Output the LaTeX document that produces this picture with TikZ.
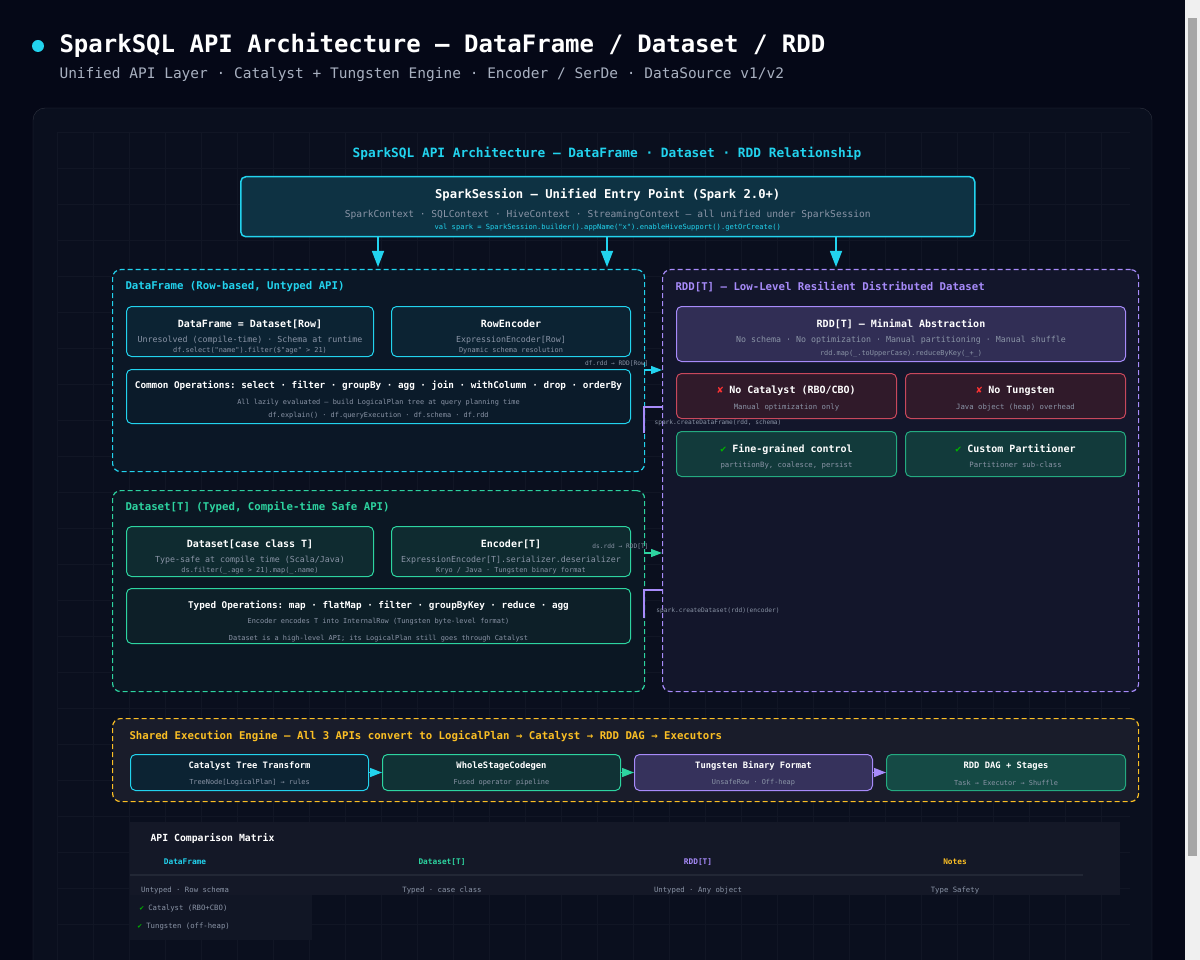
\documentclass[tikz,border=0pt]{standalone}
\usepackage{fontspec}
\setmonofont{DejaVu Sans Mono}
\usetikzlibrary{positioning,arrows.meta}
\definecolor{bgc}{HTML}{050817}
\definecolor{panelc}{HTML}{0A0F1E}
\definecolor{cyanc}{HTML}{22D3EE}
\definecolor{greenc}{HTML}{2DD4A0}
\definecolor{purplec}{HTML}{A78BFA}
\definecolor{amberc}{HTML}{FBBF24}
\definecolor{redc}{HTML}{C8485C}
\definecolor{greyc}{HTML}{8A94A6}
\definecolor{subc}{HTML}{A8B0C0}
\tikzset{
  box/.style={draw, rounded corners=5pt, line width=1pt, anchor=north west, inner sep=0pt},
  grp/.style={draw, dashed, dash pattern=on 5pt off 3pt, rounded corners=8pt, line width=1.2pt, anchor=north west, inner sep=0pt},
  ttl/.style={text=white, font=\ttfamily\bfseries\fontsize{10}{12}\selectfont},
  sub/.style={text=greyc, font=\ttfamily\fontsize{8.3}{10}\selectfont},
  code/.style={text=greyc, font=\ttfamily\fontsize{6.9}{8}\selectfont},
  glbl/.style={anchor=west, font=\ttfamily\bfseries\fontsize{10.7}{12}\selectfont},
  arr/.style={-{Triangle[length=9pt,width=9pt]}, line width=1.3pt},
  small/.style={text=greyc, font=\ttfamily\fontsize{6.2}{7}\selectfont}
}
% box with two text lines
\newcommand{\apibox}[8]{%
  \node[box, draw=#4, fill=#5, minimum width=#2pt, minimum height=#3pt] (#1) at #6 {};
  \node[ttl] at ([yshift=-18pt]#1.north) {#7};
  \node[sub] at ([yshift=-34pt]#1.north) {#8};
}
\begin{document}
\begin{tikzpicture}[x=1pt,y=-1pt]
\fill[bgc] (0,0) rectangle (1200,960);
\useasboundingbox (0,0) rectangle (1200,960);
% scrollbar
\fill[white!94!black] (1185,0) rectangle (1200,960);
\fill[gray!70] (1188,18) rectangle (1197,856);
% header
\fill[cyanc] (38,46) circle (6pt);
\node[anchor=west, text=white, font=\ttfamily\bfseries\fontsize{24}{28}\selectfont] (title) at (56,45) {SparkSQL API Architecture — DataFrame / Dataset / RDD};
\node[anchor=west, text=subc, font=\ttfamily\fontsize{14.5}{17}\selectfont] (subtitle) at (56,75) {Unified API Layer · Catalyst + Tungsten Engine · Encoder / SerDe · DataSource v1/v2};
% panel
\draw[fill=panelc, draw=white!15!panelc, rounded corners=12pt] (33,108) rectangle (1152,975);
\foreach \gx in {57,93,...,1130} \draw[white!3!panelc] (\gx,132) -- (\gx,960);
\foreach \gy in {132,168,...,960} \draw[white!3!panelc] (57,\gy) -- (1130,\gy);
\node[text=cyanc, font=\ttfamily\bfseries\fontsize{12.8}{14}\selectfont] (heading) at (607,154) {SparkSQL API Architecture — DataFrame · Dataset · RDD Relationship};

% SparkSession
\node[box, draw=cyanc, fill=cyanc!18!panelc, line width=1.5pt, minimum width=734pt, minimum height=60pt] (session) at (240,176) {};
\node[text=white, font=\ttfamily\bfseries\fontsize{12.2}{14}\selectfont] at ([yshift=-19pt]session.north) {SparkSession — Unified Entry Point (Spark 2.0+)};
\node[sub, font=\ttfamily\fontsize{9.6}{11}\selectfont] at ([yshift=-39pt]session.north) {SparkContext · SQLContext · HiveContext · StreamingContext — all unified under SparkSession};
\node[code, text=cyanc, font=\ttfamily\fontsize{7.1}{8}\selectfont] at ([yshift=-52pt]session.north) {val spark = SparkSession.builder().appName("x").enableHiveSupport().getOrCreate()};
\coordinate (s1) at (378,267); \coordinate (s2) at (607,267); \coordinate (s3) at (836,267);
\draw[cyanc, line width=1.4pt, -{Triangle[length=16pt,width=12pt]}] (session.south -| s1) -- (s1);
\draw[cyanc, line width=1.4pt, -{Triangle[length=16pt,width=12pt]}] (session.south -| s2) -- (s2);
\draw[cyanc, line width=1.4pt, -{Triangle[length=16pt,width=12pt]}] (session.south -| s3) -- (s3);

% DataFrame group
\node[grp, draw=cyanc, fill=cyanc!4!panelc, minimum width=532pt, minimum height=202pt] (dfgrp) at (112,269) {};
\node[glbl, text=cyanc] at (122,287) {DataFrame (Row-based, Untyped API)};
\apibox{dfrow}{247}{50}{cyanc}{cyanc!10!panelc}{(126,306)}{DataFrame = Dataset[Row]}{Unresolved (compile-time) · Schema at runtime}
\node[code] at ([yshift=-45pt]dfrow.north) {df.select("name").filter(\$"age" > 21)};
\apibox{rowenc}{239}{50}{cyanc}{cyanc!10!panelc}{(391,306)}{RowEncoder}{ExpressionEncoder[Row]}
\node[code] at ([yshift=-45pt]rowenc.north) {Dynamic schema resolution};
\node[box, draw=cyanc, fill=cyanc!6!panelc, minimum width=504pt, minimum height=54pt] (dfops) at (126,369) {};
\node[ttl, font=\ttfamily\bfseries\fontsize{9.3}{10}\selectfont] at ([yshift=-17pt]dfops.north) {Common Operations: select · filter · groupBy · agg · join · withColumn · drop · orderBy};
\node[code] at ([yshift=-34pt]dfops.north) {All lazily evaluated — build LogicalPlan tree at query planning time};
\node[code] at ([yshift=-47pt]dfops.north) {df.explain() · df.queryExecution · df.schema · df.rdd};

% Dataset group
\node[grp, draw=greenc, fill=greenc!4!panelc, minimum width=532pt, minimum height=201pt] (dsgrp) at (112,490) {};
\node[glbl, text=greenc] at (122,507) {Dataset[T] (Typed, Compile-time Safe API)};
\apibox{dscase}{247}{50}{greenc}{greenc!14!panelc}{(126,526)}{Dataset[case class T]}{Type-safe at compile time (Scala/Java)}
\node[code] at ([yshift=-45pt]dscase.north) {ds.filter(\_.age > 21).map(\_.name)};
\apibox{enc}{239}{50}{greenc}{greenc!14!panelc}{(391,526)}{Encoder[T]}{ExpressionEncoder[T].serializer.deserializer}
\node[code] at ([yshift=-45pt]enc.north) {Kryo / Java · Tungsten binary format};
\node[box, draw=greenc, fill=greenc!8!panelc, minimum width=504pt, minimum height=55pt] (dsops) at (126,588) {};
\node[ttl, font=\ttfamily\bfseries\fontsize{9.3}{10}\selectfont] at ([yshift=-18pt]dsops.north) {Typed Operations: map · flatMap · filter · groupByKey · reduce · agg};
\node[code] at ([yshift=-34pt]dsops.north) {Encoder encodes T into InternalRow (Tungsten byte-level format)};
\node[code] at ([yshift=-51pt]dsops.north) {Dataset is a high-level API; its LogicalPlan still goes through Catalyst};

% RDD group
\node[grp, draw=purplec, fill=purplec!6!panelc, minimum width=476pt, minimum height=422pt] (rddgrp) at (662,269) {};
\node[glbl, text=purplec] at (672,287) {RDD[T] — Low-Level Resilient Distributed Dataset};
\apibox{rddmin}{449}{55}{purplec}{purplec!25!panelc}{(676,306)}{RDD[T] — Minimal Abstraction}{No schema · No optimization · Manual partitioning · Manual shuffle}
\node[code] at ([yshift=-48pt]rddmin.north) {rdd.map(\_.toUpperCase).reduceByKey(\_+\_)};
\apibox{nocat}{220}{45}{redc}{redc!20!panelc}{(676,373)}{{\color{red!80!white}✘} No Catalyst (RBO/CBO)}{\fontsize{7.3}{8}\selectfont Manual optimization only}
\apibox{notung}{220}{45}{redc}{redc!20!panelc}{(905,373)}{{\color{red!80!white}✘} No Tungsten}{\fontsize{7.3}{8}\selectfont Java object (heap) overhead}
\apibox{fine}{220}{45}{greenc!80!black}{greenc!22!panelc}{(676,431)}{{\color{green!70!black}✔} Fine-grained control}{\fontsize{7.3}{8}\selectfont partitionBy, coalesce, persist}
\apibox{custom}{220}{45}{greenc!80!black}{greenc!22!panelc}{(905,431)}{{\color{green!70!black}✔} Custom Partitioner}{\fontsize{7.3}{8}\selectfont Partitioner sub-class}

% conversions
\coordinate (dfout) at (644,370); \coordinate (dfin) at (662,370);
\draw[arr, cyanc, -{Triangle[length=11pt,width=8pt]}] (dfout) -- (dfin);
\node[small, anchor=east] at (652,364) {df.rdd → RDD[Row]};
\coordinate (rdf1) at (662,407); \coordinate (rdf2) at (644,407); \coordinate (rdf3) at (644,433);
\draw[purplec, line width=1.3pt] (rdf1) -- (rdf2) -- (rdf3);
\node[small] at (718,423) {spark.createDataFrame(rdd, schema)};
\coordinate (dsout) at (644,553); \coordinate (dsin) at (662,553);
\draw[arr, greenc, -{Triangle[length=11pt,width=8pt]}] (dsout) -- (dsin);
\node[small, anchor=east] at (652,547) {ds.rdd → RDD[T]};
\coordinate (rds1) at (662,590); \coordinate (rds2) at (644,590); \coordinate (rds3) at (644,618);
\draw[purplec, line width=1.3pt] (rds1) -- (rds2) -- (rds3);
\node[small] at (718,611) {spark.createDataset(rdd)(encoder)};

% execution engine
\node[grp, draw=amberc, fill=white!8!bgc, minimum width=1026pt, minimum height=83pt] (engine) at (112,718) {};
\node[glbl, text=amberc] at (126,736) {Shared Execution Engine — All 3 APIs convert to LogicalPlan → Catalyst → RDD DAG → Executors};
\node[box, draw=cyanc, fill=cyanc!10!panelc, minimum width=238pt, minimum height=36pt] (cat) at (130,754) {};
\node[box, draw=greenc, fill=greenc!18!panelc, minimum width=238pt, minimum height=36pt] (wsc) at (382,754) {};
\node[box, draw=purplec, fill=purplec!28!panelc, minimum width=238pt, minimum height=36pt] (tung) at (634,754) {};
\node[box, draw=greenc!80!black, fill=greenc!30!panelc, minimum width=239pt, minimum height=36pt] (dag) at (886,754) {};
\foreach \n/\t/\s in {cat/Catalyst Tree Transform/TreeNode[LogicalPlan] → rules,
                      wsc/WholeStageCodegen/Fused operator pipeline,
                      tung/Tungsten Binary Format/UnsafeRow · Off-heap,
                      dag/RDD DAG + Stages/Task → Executor → Shuffle} {
  \node[ttl, font=\ttfamily\bfseries\fontsize{8.8}{10}\selectfont] at ([yshift=-12pt]\n.north) {\t};
  \node[code] at ([yshift=-29pt]\n.north) {\s};
}
\draw[arr, cyanc, -{Triangle[length=12pt,width=9pt]}] (cat) -- (wsc);
\draw[arr, greenc, -{Triangle[length=12pt,width=9pt]}] (wsc) -- (tung);
\draw[arr, purplec, -{Triangle[length=12pt,width=9pt]}] (tung) -- (dag);

% comparison matrix
\fill[white!4!panelc] (130,822) rectangle (1120,895);
\fill[white!3!panelc] (130,895) rectangle (312,940);
\node[anchor=west, text=white, font=\ttfamily\bfseries\fontsize{9.8}{11}\selectfont] (matrix) at (147,839) {API Comparison Matrix};
\node[text=cyanc, font=\ttfamily\bfseries\fontsize{7.8}{9}\selectfont] (hdf) at (185,862) {DataFrame};
\node[text=greenc, font=\ttfamily\bfseries\fontsize{7.8}{9}\selectfont] (hds) at (442,862) {Dataset[T]};
\node[text=purplec, font=\ttfamily\bfseries\fontsize{7.8}{9}\selectfont] (hrdd) at (698,862) {RDD[T]};
\node[text=amberc, font=\ttfamily\bfseries\fontsize{7.8}{9}\selectfont] (hnotes) at (955,862) {Notes};
\draw[white!10!panelc, line width=1.5pt] (130,875) -- (1083,875);
\node[small, font=\ttfamily\fontsize{7.3}{8}\selectfont] at (185,890) {Untyped · Row schema};
\node[small, font=\ttfamily\fontsize{7.3}{8}\selectfont] at (442,890) {Typed · case class};
\node[small, font=\ttfamily\fontsize{7.3}{8}\selectfont] at (698,890) {Untyped · Any object};
\node[small, font=\ttfamily\fontsize{7.3}{8}\selectfont] at (955,890) {Type Safety};
\node[small, font=\ttfamily\fontsize{7.3}{8}\selectfont, anchor=west] at (136,908) {{\color{green!70!black}✔} Catalyst (RBO+CBO)};
\node[small, font=\ttfamily\fontsize{7.3}{8}\selectfont, anchor=west] at (134,927) {{\color{green!70!black}✔} Tungsten (off-heap)};
\end{tikzpicture}
\end{document}
